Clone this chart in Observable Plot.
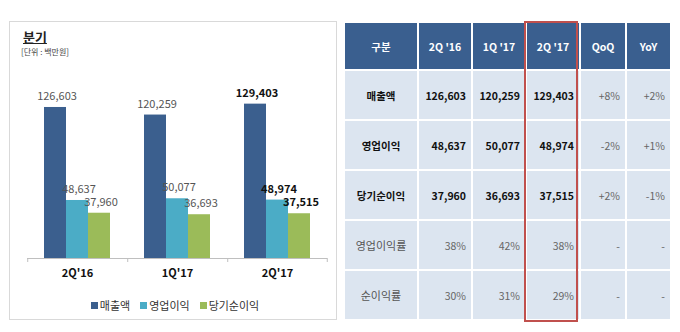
<!DOCTYPE html>
<html>
<head>
<meta charset="utf-8">
<script src="https://cdn.jsdelivr.net/npm/d3@7"></script>
<script src="https://cdn.jsdelivr.net/npm/@observablehq/plot@0.6"></script>
<style>
  html, body { margin: 0; padding: 0; background: #fff; }
  body { width: 680px; height: 332px; position: relative; overflow: hidden;
         font-family: "Noto Sans CJK KR", "Open Sans", sans-serif; }
  #panel { position: absolute; left: 9px; top: 21px; width: 328px; height: 299px;
           border: 1px solid #d9d9d9; box-sizing: border-box; }
  #title { position: absolute; left: 23px; top: 29px; font-size: 13px; font-weight: bold;
           text-decoration: underline; color: #222; line-height: 15px; }
  #unit { position: absolute; left: 21px; top: 47px; font-size: 8px; color: #444; line-height: 9px; }
  #chart { position: absolute; left: 0; top: 60px; }
  #legend { position: absolute; left: 0; width: 350px; top: 298px; text-align: center;
            font-size: 11px; color: #333; line-height: 14px; }
  #legend span.item { margin: 0 5px; white-space: nowrap; }
  #legend span.sw { display: inline-block; width: 7px; height: 7px; margin-right: 2px; vertical-align: 1px; }
  #tbl { position: absolute; left: 343px; top: 21px; width: 327px; height: 298px;
         border-collapse: collapse; table-layout: fixed; font-size: 10.5px; }
  #tbl td, #tbl th { border: 2px solid #fff; padding: 0 5px; }
  #tbl th { background: #3A5F8F; color: #fff; font-weight: bold; text-align: center; height: 46px; }
  #tbl td { background: #DCE5F0; height: 48px; }
  #tbl td.lab { text-align: center; }
  #tbl td.num { text-align: right; }
  #tbl tr.main td.lab, #tbl tr.main td.q { font-weight: bold; color: #111; }
  #tbl td.ch, #tbl tr.ratio td { color: #666; font-weight: normal; }
  #tbl tr.ratio td.lab { font-size: 11px; color: #555; }
  #redbox { position: absolute; left: 524px; top: 21px; width: 54px; height: 301px;
            border: 2px solid #C0504D; box-sizing: border-box; }
</style>
</head>
<body>
<div id="panel"></div>
<div id="title">분기</div>
<div id="unit">[단위 : 백만원]</div>
<div id="chart"></div>
<div id="legend"></div>
<table id="tbl"></table>
<div id="redbox"></div>
<script>
// ---- data ----
const quarters = ["2Q'16", "1Q'17", "2Q'17"];
const seriesNames = ["매출액", "영업이익", "당기순이익"];
const revenue = [126603, 120259, 129403];
const operatingIncome = [48637, 50077, 48974];
const netIncome = [37960, 36693, 37515];
const seriesColors = ["#3B5F8E", "#4BACC6", "#9BBB59"];

const tableHeader = ["구분", "2Q '16", "1Q '17", "2Q '17", "QoQ", "YoY"];
const rowLabels = ["매출액", "영업이익", "당기순이익", "영업이익률", "순이익률"];
const qoq = ["+8%", "-2%", "+2%", "-", "-"];
const yoy = ["+2%", "+1%", "-1%", "-", "-"];
const opMargin = ["38%", "42%", "38%"];
const netMargin = ["30%", "31%", "29%"];

// ---- chart ----
const seriesValues = [revenue, operatingIncome, netIncome];
const data = quarters.flatMap((q, i) =>
  seriesNames.map((s, j) => ({q, s, v: seriesValues[j][i]})));
const fmt = d3.format(",");

const W = 340, mL = 26, mR = 13;
const facetW = (W - mL - mR) / quarters.length;
const padOuter = 0.74;
const step = facetW / (seriesNames.length + 2 * padOuter);
const edgeOffset = padOuter * step + step / 2;

const chart = Plot.plot({
  width: W, height: 230,
  marginLeft: mL, marginRight: mR, marginTop: 31, marginBottom: 32,
  style: {background: "transparent", fontFamily: "'Noto Sans CJK KR', sans-serif", fontSize: "11px"},
  fx: {domain: quarters, padding: 0, label: null},
  x: {domain: seriesNames, paddingInner: 0, paddingOuter: padOuter, axis: null},
  y: {domain: [0, 140000], axis: null},
  color: {domain: seriesNames, range: seriesColors},
  marks: [
    Plot.barY(data, {fx: "q", x: "s", y: "v", fill: "s"}),
    Plot.ruleY([0], {stroke: "#bfbfbf"}),
    Plot.ruleX(quarters.map(q => ({q, s: seriesNames[0]})),
      {fx: "q", x: "s", y1: 0, y2: 0, insetBottom: -4, dx: -edgeOffset, stroke: "#bfbfbf"}),
    Plot.ruleX([{q: quarters[quarters.length - 1], s: seriesNames[seriesNames.length - 1]}],
      {fx: "q", x: "s", y1: 0, y2: 0, insetBottom: -4, dx: edgeOffset, stroke: "#bfbfbf"}),
    Plot.text(data.filter(d => d.q !== quarters[2]),
      {fx: "q", x: "s", y: "v", text: d => fmt(d.v), dy: -11, dx: 1.5, fill: "#555", fontSize: 11}),
    Plot.text(data.filter(d => d.q === quarters[2]),
      {fx: "q", x: "s", y: "v", text: d => fmt(d.v), dy: -11, dx: 1.5, fill: "#111", fontWeight: "bold", fontSize: 11}),
    Plot.axisFx({anchor: "bottom", tickSize: 0, tickPadding: 11, fontWeight: "bold", fontSize: 11, fill: "#111", label: null})
  ]
});
document.getElementById("chart").appendChild(chart);

const legend = document.getElementById("legend");
seriesNames.forEach((s, j) => {
  const it = document.createElement("span");
  it.className = "item";
  const sw = document.createElement("span");
  sw.className = "sw";
  sw.style.background = seriesColors[j];
  it.appendChild(sw);
  it.appendChild(document.createTextNode(s));
  legend.appendChild(it);
});

// ---- table ----
const tbl = document.getElementById("tbl");
const colW = [74, 54, 54, 54, 46, 45];
const cg = document.createElement("colgroup");
colW.forEach(w => { const c = document.createElement("col"); c.style.width = w + "px"; cg.appendChild(c); });
tbl.appendChild(cg);
const hr = document.createElement("tr");
tableHeader.forEach(h => { const th = document.createElement("th"); th.textContent = h; hr.appendChild(th); });
tbl.appendChild(hr);
const rowValues = [revenue.map(fmt), operatingIncome.map(fmt), netIncome.map(fmt), opMargin, netMargin];
rowLabels.forEach((lab, r) => {
  const tr = document.createElement("tr");
  tr.className = r < 3 ? "main" : "ratio";
  const l = document.createElement("td"); l.className = "lab"; l.textContent = lab; tr.appendChild(l);
  rowValues[r].forEach(v => { const td = document.createElement("td"); td.className = "num q"; td.textContent = v; tr.appendChild(td); });
  [qoq[r], yoy[r]].forEach(v => { const td = document.createElement("td"); td.className = "num ch"; td.textContent = v; tr.appendChild(td); });
  tbl.appendChild(tr);
});
</script>
</body>
</html>
